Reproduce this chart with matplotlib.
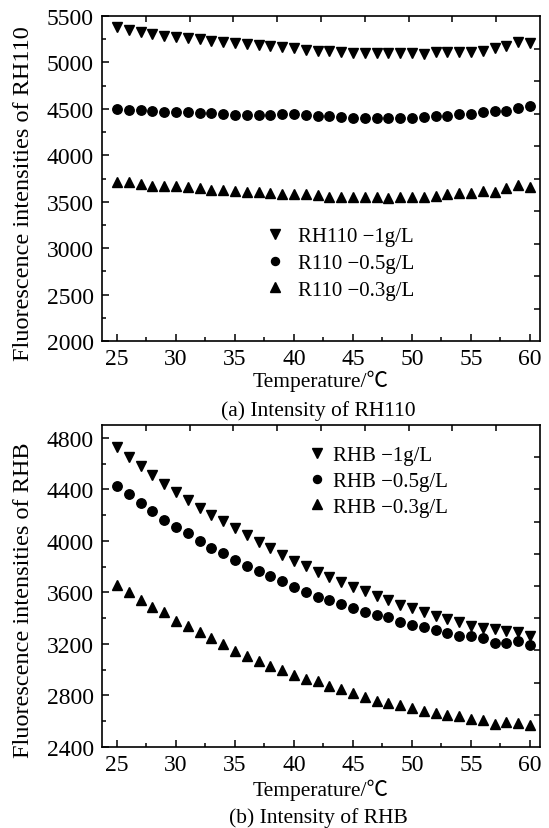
import matplotlib
matplotlib.use("Agg")
import matplotlib.pyplot as plt
from matplotlib.ticker import MultipleLocator
import numpy as np

plt.rcParams['font.family'] = ['Liberation Serif', 'Noto Sans CJK SC', 'DejaVu Serif']

temperature = list(range(25, 61))

# (a) RH110
rh110_1 = [5378, 5349, 5331, 5310, 5288, 5270, 5259, 5252, 5234, 5223, 5209, 5198,
           5187, 5173, 5162, 5151, 5137, 5126, 5119, 5108, 5101, 5097, 5097, 5097,
           5097, 5097, 5086, 5108, 5108, 5108, 5115, 5126, 5151, 5173, 5216, 5209]
r110_05 = [4500, 4493, 4489, 4478, 4471, 4471, 4464, 4457, 4453, 4446, 4439, 4435,
           4435, 4439, 4442, 4446, 4439, 4428, 4420, 4415, 4405, 4400, 4400, 4400,
           4400, 4405, 4408, 4420, 4428, 4440, 4450, 4465, 4475, 4480, 4507, 4536]
r110_03 = [3707, 3707, 3689, 3671, 3671, 3668, 3654, 3643, 3625, 3625, 3618, 3604,
           3600, 3596, 3582, 3582, 3579, 3571, 3554, 3554, 3554, 3554, 3554, 3543,
           3554, 3554, 3554, 3561, 3579, 3589, 3589, 3614, 3607, 3643, 3679, 3661]
labels_a = ["RH110 \u22121g/L", "R110 \u22120.5g/L", "R110 \u22120.3g/L"]

# (b) RHB
rhb_1 = [4727, 4650, 4580, 4508, 4443, 4378, 4319, 4256, 4205, 4153, 4098, 4044,
         3992, 3946, 3891, 3847, 3803, 3756, 3717, 3678, 3639, 3613, 3574, 3543,
         3502, 3476, 3445, 3414, 3393, 3368, 3342, 3321, 3316, 3298, 3290, 3264]
rhb_05 = [4424, 4365, 4295, 4230, 4165, 4111, 4062, 4002, 3946, 3906, 3852, 3808,
          3769, 3725, 3691, 3646, 3605, 3566, 3543, 3509, 3478, 3445, 3424, 3406,
          3372, 3346, 3328, 3307, 3284, 3263, 3263, 3243, 3211, 3206, 3224, 3193]
rhb_03 = [3657, 3600, 3543, 3484, 3445, 3381, 3337, 3290, 3247, 3198, 3149, 3110,
          3071, 3032, 3001, 2960, 2929, 2909, 2872, 2847, 2821, 2785, 2754, 2741,
          2728, 2702, 2679, 2666, 2645, 2640, 2614, 2607, 2581, 2594, 2589, 2568]
labels_b = ["RHB \u22121g/L", "RHB \u22120.5g/L", "RHB \u22120.3g/L"]

xlabel = "Temperature/\u2103"
ylabel_a = "Fluorescence intensities of RH110"
ylabel_b = "Fluorescence intensities of RHB"
caption_a = "(a) Intensity of RH110"
caption_b = "(b) Intensity of RHB"

W, H = 549, 829
fig = plt.figure(figsize=(W / 100, H / 100), dpi=100)

FS = 17      # tick labels
LFS = 15     # legend
XFS = 15.5   # x label / captions
YFS = 17.5   # y label

def px_axes(l, t, r, b):
    return fig.add_axes([l / W, 1 - b / H, (r - l) / W, (b - t) / H])

def style(ax, ylim, ymajor, yminor):
    ax.set_xlim(23.73, 60.85)
    ax.set_ylim(*ylim)
    ax.xaxis.set_major_locator(MultipleLocator(5))
    ax.xaxis.set_minor_locator(MultipleLocator(2.5))
    ax.yaxis.set_major_locator(MultipleLocator(ymajor))
    ax.yaxis.set_minor_locator(MultipleLocator(yminor))
    ax.tick_params(which='both', direction='in', top=False, right=False,
                   labelsize=FS, width=1.1)
    ax.tick_params(which='major', length=5)
    ax.tick_params(axis='y', which='major', pad=6)
    ax.tick_params(axis='x', which='major', pad=5)
    ax.tick_params(which='minor', length=3)
    for s in ax.spines.values():
        s.set_linewidth(1.2)
    # secondary decorative ticks on top and right (10 divisions)
    tx = ax.twiny()
    tx.set_xlim(0, 10)
    tx.set_xticks(range(1, 10))
    tx.tick_params(axis='x', direction='in', length=4, width=1.1, labeltop=False)
    ty = ax.twinx()
    ty.set_ylim(0, 10)
    ty.set_yticks(range(1, 10))
    ty.tick_params(axis='y', direction='in', length=4, width=1.1, labelright=False)
    for t in (tx, ty):
        for s in t.spines.values():
            s.set_visible(False)

def plot_series(ax, ys, labels):
    kw = dict(linestyle='none', color='black')
    h1, = ax.plot(temperature, ys[0], marker='v', markersize=7.8, label=labels[0], **kw)
    h2, = ax.plot(temperature, ys[1], marker='o', markersize=6.8, label=labels[1], **kw)
    h3, = ax.plot(temperature, ys[2], marker='^', markersize=7.8, label=labels[2], **kw)
    return [h1, h2, h3]

# Panel (a)
ax1 = px_axes(102, 17, 540, 342)
hs = plot_series(ax1, [rh110_1, r110_05, r110_03], labels_a)
style(ax1, (2000, 5500), 500, 250)
ax1.legend(handles=hs, loc='center left', bbox_to_anchor=(0.371, 0.24),
           frameon=False, fontsize=LFS, handlelength=1.0, handletextpad=0.6,
           labelspacing=0.35, borderpad=0, borderaxespad=0, markerscale=0.85)

# Panel (b)
ax2 = px_axes(102, 426, 540, 748)
hs = plot_series(ax2, [rhb_1, rhb_05, rhb_03], labels_b)
style(ax2, (2400, 4900), 400, 200)
ax2.legend(handles=hs, loc='center left', bbox_to_anchor=(0.466, 0.826),
           frameon=False, fontsize=LFS, handlelength=1.0, handletextpad=0.3,
           labelspacing=0.3, borderpad=0, borderaxespad=0, markerscale=0.85)

# labels and captions
fig.text(321 / W, 1 - 381 / H, xlabel, ha='center', va='center', fontsize=XFS)
fig.text(318 / W, 1 - 411 / H, caption_a, ha='center', va='center', fontsize=XFS)
fig.text(321 / W, 1 - 790 / H, xlabel, ha='center', va='center', fontsize=XFS)
fig.text(318 / W, 1 - 818 / H, caption_b, ha='center', va='center', fontsize=XFS)
fig.text(24 / W, 1 - 194 / H, ylabel_a, ha='center', va='center', rotation=90, fontsize=YFS)
fig.text(24 / W, 1 - 600 / H, ylabel_b, ha='center', va='center', rotation=90, fontsize=YFS)

fig.savefig("out.png", dpi=100)
